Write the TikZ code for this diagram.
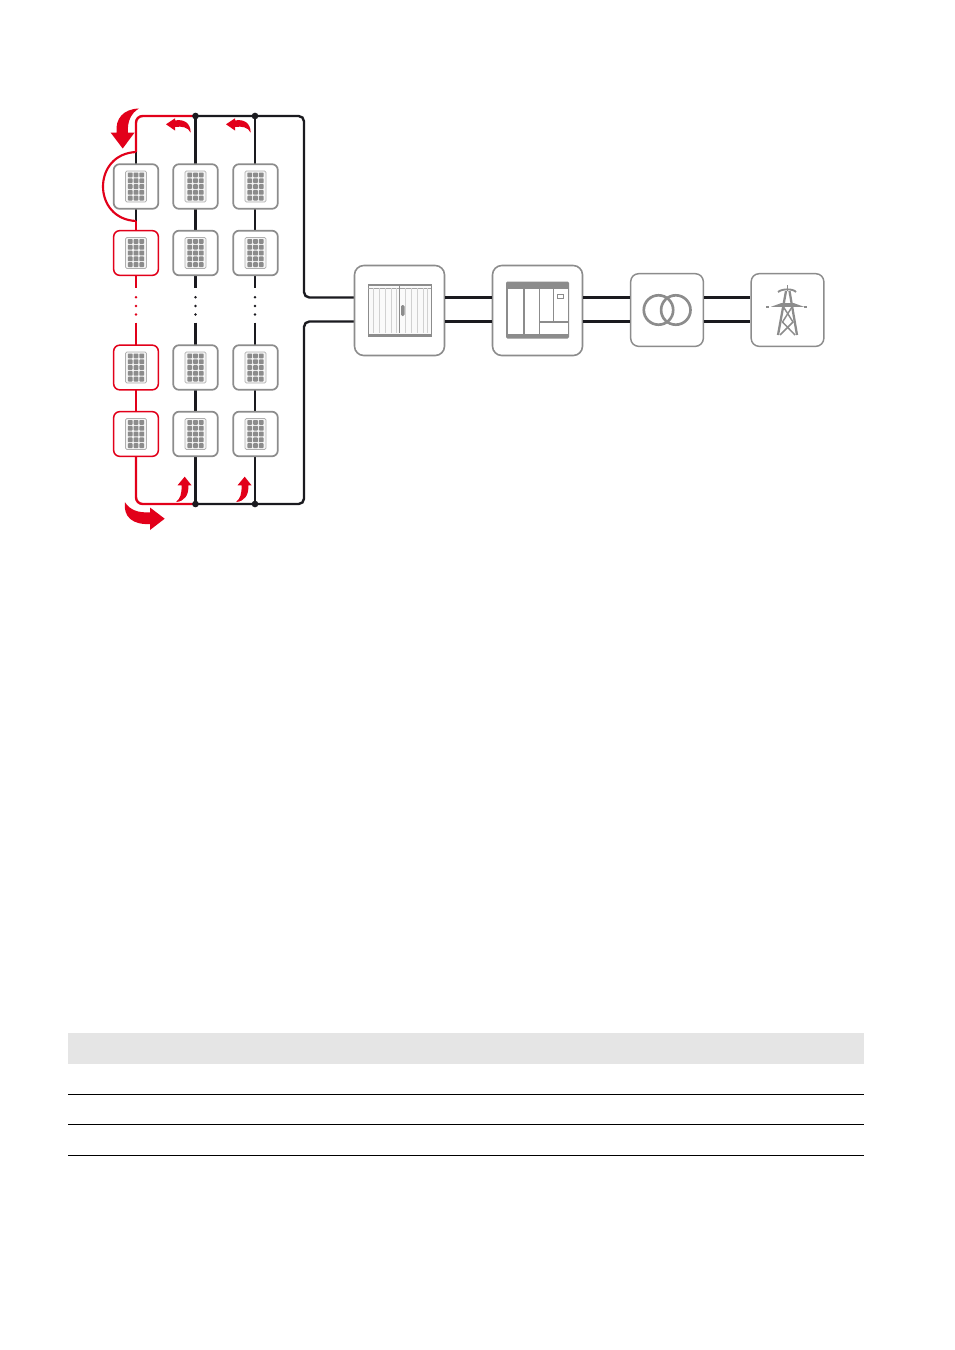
\documentclass[tikz,border=0pt]{standalone}
\usepackage{tikz}
\definecolor{sred}{HTML}{E2001A}
\definecolor{sgray}{HTML}{8C8C8C}
\definecolor{sblack}{HTML}{1A1A1F}
\definecolor{tgray}{HTML}{E5E5E5}
\tikzset{
  x=0.75pt,y=-0.75pt,
  pv/.style={draw=sgray,line width=1.3pt,rounded corners=4.5pt,minimum width=33.5pt,minimum height=33.5pt,inner sep=0pt,fill=white},
  pvred/.style={pv,draw=sred,line width=1.15pt},
  bigbox/.style={draw=sgray,line width=1.2pt,rounded corners=7pt,minimum width=67.5pt,minimum height=67.5pt,inner sep=0pt,fill=white},
  midbox/.style={draw=sgray,line width=1.1pt,rounded corners=6pt,minimum width=54.5pt,minimum height=54.5pt,inner sep=0pt,fill=white},
  cable/.style={draw=sblack,line width=1.8pt},
  redcable/.style={draw=sred,line width=1.8pt},
  junction/.style={circle,fill=sblack,minimum size=5pt,inner sep=0pt},
  dotk/.style={circle,fill=sblack,minimum size=2.1pt,inner sep=0pt},
  dotr/.style={circle,fill=sred,minimum size=2.1pt,inner sep=0pt},
  arrowred/.style={fill=sred,draw=none},
  icon/.style={fill=sgray,draw=none},
  rule/.style={draw=black,line width=0.75pt},
}
\newcommand{\pvicon}[2]{%
  \begin{scope}[shift={(#1,#2)}]
    \draw[draw=sgray!70,fill=black!4,line width=0.6pt,rounded corners=1pt] (-10.5,-15.5) rectangle (10.5,15.5);
    \foreach \i in {-1,0,1}{\foreach \j in {-2,-1,0,1,2}{
      \fill[icon,rounded corners=0.6pt] ({\i*5.8-2.4},{\j*5.8-2.4}) rectangle ({\i*5.8+2.4},{\j*5.8+2.4});}}
  \end{scope}}
\begin{document}
\begin{tikzpicture}
\useasboundingbox (0,0) rectangle (954,1350);
\fill[white] (0,0) rectangle (954,1350);
% free points
\coordinate (tl) at (136,116);
\coordinate (tj1) at (195.5,116);
\coordinate (tj2) at (255,116);
\coordinate (tr) at (304,116);
\coordinate (bl) at (136,504);
\coordinate (bj1) at (195.5,504);
\coordinate (bj2) at (255,504);
\coordinate (br) at (304,504);
\coordinate (a1) at (136,152);
\coordinate (a2) at (136,221);
\coordinate (u1) at (136,288);
\coordinate (l1) at (136,322.5);
% cables behind nodes
\draw[cable,rounded corners=4pt] (tj1) -- (tr) -- (304,297.5) -- (354,297.5);
\draw[cable,rounded corners=4pt] (bj1) -- (br) -- (304,321.5) -- (354,321.5);
\draw[redcable,rounded corners=5pt] (tj1) -- (tl) -- (a1);
\draw[redcable,rounded corners=5pt] (bj1) -- (bl) -- (136,434);
\draw[cable] (a1) -- (a2);
\draw[redcable] (a2) -- (u1);
\draw[redcable] (l1) -- (136,434);
\foreach \x in {195.5,255}{
  \draw[cable] (\x,116) -- (\x,288);
  \draw[cable] (\x,322.5) -- (\x,504);
}
% red bypass
\draw[draw=sred,line width=1.6pt] (a1) .. controls (92,154) and (92,219) .. (a2);
% modules
\foreach \c/\x in {1/136,2/195.5,3/255.5}{
  \foreach \r/\y in {1/186.5,2/253,3/367.5,4/434}{
    \ifnum\c=1 \ifnum\r>1
      \node[pvred] (p\c\r) at (\x,\y) {};
    \else
      \node[pv] (p\c\r) at (\x,\y) {};
    \fi\else
      \node[pv] (p\c\r) at (\x,\y) {};
    \fi
    \pvicon{\x}{\y}
  }
}
% dots
\foreach \y/\n in {297.3/a,306/b,314.5/c}{
  \node[dotr] (dr\n) at (136,\y) {};
  \node[dotk] (dk\n) at (195.5,\y) {};
  \node[dotk] (dl\n) at (255,\y) {};
}
% junctions
\node[junction] (jt1) at (tj1) {};
\node[junction] (jt2) at (tj2) {};
\node[junction] (jb1) at (bj1) {};
\node[junction] (jb2) at (bj2) {};
% power train
\node[bigbox] (inv) at (399.5,310.5) {};
\node[bigbox] (sw) at (537.5,310.5) {};
\node[midbox] (trafo) at (667,310) {};
\node[midbox] (grid) at (787.5,310) {};
\foreach \a/\b in {inv/sw,sw/trafo,trafo/grid}{
  \draw[cable] (\a.east |- 0,297.5) -- (\b.west |- 0,297.5);
  \draw[cable] (\a.east |- 0,321.5) -- (\b.west |- 0,321.5);
}
% cabinet 1
\fill[black!2] (368,284) rectangle (431,336);
\draw[sgray,line width=0.6pt] (368,284) rectangle (431,336);
\fill[sgray] (368,284) rectangle (431,285.5);
\fill[sgray] (368,333.5) rectangle (431,336);
\draw[sgray!80,line width=0.35pt] (368,288) -- (431,288);
\foreach \x in {373,379,385,391,396,405,411,417,423,427}{
  \draw[black!18,line width=0.4pt] (\x,288) -- (\x,333);}
\draw[sgray,line width=0.6pt] (399.5,286) -- (399.5,333);
\fill[sgray,rounded corners=1pt] (401,305) rectangle (404.5,316);
% cabinet 2
\fill[sgray,rounded corners=1pt] (506,281.5) rectangle (569,338.5);
\fill[white] (507.5,288.5) rectangle (523,333.5);
\fill[white] (524.5,288.5) rectangle (538.5,333.5);
\fill[white] (540,288.5) rectangle (552.5,321);
\fill[white] (553.8,288.5) rectangle (567.5,321);
\fill[white] (540,322.5) rectangle (567.5,333.5);
\draw[sgray,line width=0.5pt] (557.5,294) rectangle (563.5,298.5);
% transformer
\draw[sgray,line width=2pt] (658.5,310) circle (14.7);
\draw[sgray,line width=2pt] (675.8,310) circle (14.7);
% pylon
\begin{scope}
  \fill[sgray] (771,306.8) -- (781,303.2) -- (794,303.2) -- (804,306.8) -- cycle;
  \draw[sgray,line width=1.7pt,line join=bevel] (786,291) -- (778,335);
  \draw[sgray,line width=1.7pt,line join=bevel] (789.5,291) -- (797,335);
  \draw[sgray,line width=1.1pt] (783.5,307) -- (793,322) -- (780,335);
  \draw[sgray,line width=1.1pt] (792,307) -- (782.5,322) -- (795,335);
  \draw[sgray,line width=1.4pt] (778,292) .. controls (782,288.5) and (793,288.5) .. (796,292);
  \draw[sgray,line width=1.1pt] (787.7,285) -- (787.7,291);
  \draw[sgray,line width=1.1pt,dash pattern=on 2pt off 2pt] (766,307) -- (771,307);
  \draw[sgray,line width=1.1pt,dash pattern=on 2pt off 2pt] (804,307) -- (809,307);
\end{scope}
% flow arrows
\fill[arrowred] (122.7,148.5) -- (110.7,132.7) -- (116.7,132.7)
  .. controls (115,119) and (123,109) .. (139,108.5)
  .. controls (131,113) and (127,122) .. (128,132.7)
  -- (134.5,132.7) -- cycle;
\foreach \d in {0,60}{
\begin{scope}[shift={(\d,0)}]
\fill[arrowred] (166,124.3) -- (175,118.3) -- (175,120.5)
  .. controls (183,119) and (190.5,122) .. (190.7,132.7)
  .. controls (188,127) and (182,126) .. (175,127)
  -- (175,130.5) -- cycle;
\fill[arrowred] (184.7,476.7) -- (177.5,485.3) -- (181.5,485.3)
  .. controls (182,494) and (180,499) .. (176,502)
  .. controls (184.5,501.5) and (189,495) .. (188.3,485.3)
  -- (191.5,485.3) -- cycle;
\end{scope}}
\fill[arrowred] (164.7,518.7) -- (150,507.5) -- (150,512.3)
  .. controls (138,513) and (130,510) .. (125,502.3)
  .. controls (123,517) and (133,525) .. (150,524)
  -- (150,530) -- cycle;
% table
\fill[tgray] (68,1033) rectangle (864,1064);
\draw[rule] (68,1094) -- (864,1094);
\draw[rule] (68,1124.5) -- (864,1124.5);
\draw[rule] (68,1155.5) -- (864,1155.5);
\end{tikzpicture}
\end{document}
